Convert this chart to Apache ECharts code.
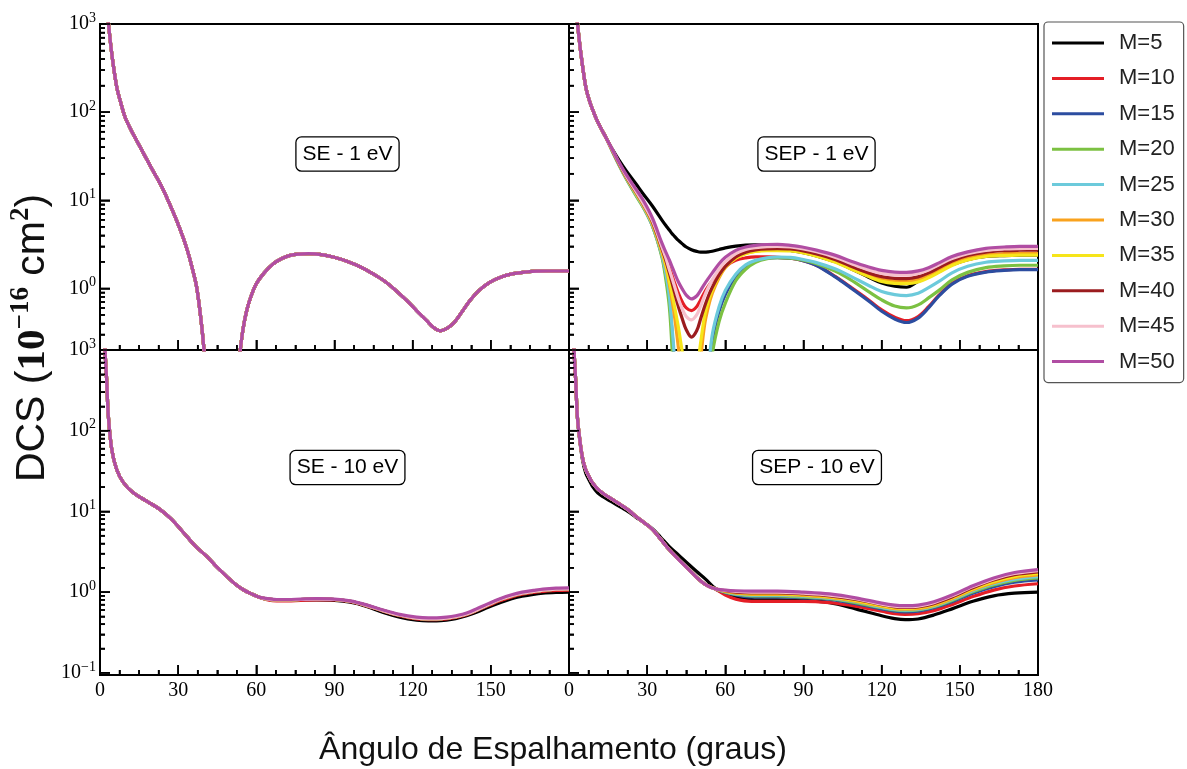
<!DOCTYPE html>
<html><head><meta charset="utf-8">
<script src="https://cdn.jsdelivr.net/npm/echarts@6/dist/echarts.min.js"></script>
<style>html,body{margin:0;padding:0;background:#fff}#c{width:1187px;height:769px}</style>
</head><body><div id="c"></div>
<script>
// ---------- DATA ----------
const M_NAMES = ['M=5','M=10','M=15','M=20','M=25','M=30','M=35','M=40','M=45','M=50'];
const X_TICKS = [0, 30, 60, 90, 120, 150, 180];
const X_MINOR = [7.5,15,22.5,37.5,45,52.5,67.5,75,82.5,97.5,105,112.5,127.5,135,142.5,157.5,165,172.5];
const Y_MAJOR_TOP = [1, 10, 100, 1000];
const Y_MAJOR_BOTTOM = [0.1, 1, 10, 100, 1000];
const Y_MINOR_TOP = [0.3,0.4,0.5,0.6,0.7,0.8,0.9,2,3,4,5,6,7,8,9,20,30,40,50,60,70,80,90,200,300,400,500,600,700,800,900];
const Y_MINOR_BOTTOM = [0.2,0.3,0.4,0.5,0.6,0.7,0.8,0.9,2,3,4,5,6,7,8,9,20,30,40,50,60,70,80,90,200,300,400,500,600,700,800,900];

const se1Angles = [2,3,4.5,6.4,8,9.6,12,14,16.6,20,23.7,26.5,29.4,32,33.9,35.5,37.1,38.8,40,41.5,46,51,52.5,54,55,56.3,58,60,63,66.5,70,73,76.5,80,85,89.5,95,100,104.5,109,113,117.7,121.5,125.4,128,130.5,133,135.6,138.5,142,145.5,149.7,154,158.6,163,167.6,172,176,180];
const se1All = [2600,1200,465,194,127,88,62,48,34.5,22.5,14.2,9.4,5.9,3.7,2.48,1.65,1.03,0.43,0.19,0.05,0.005,0.03,0.09,0.22,0.36,0.56,0.82,1.13,1.5,1.91,2.2,2.37,2.45,2.48,2.42,2.27,2.02,1.75,1.48,1.22,0.98,0.73,0.56,0.43,0.36,0.33,0.35,0.40,0.52,0.73,0.95,1.18,1.35,1.47,1.53,1.57,1.575,1.575,1.575];

const sep1HeadAngles = [2,3,4.5,6.4,8,10.2,12,14.1];
const sep1Head = [2600,1200,480,195,130,88,68,52];
const sep1BodyAngles = [16.6,19.2,22,25.6,28.5,32,35.6,37.1,38.5,39.5,40.5,42,43.5,45,47,49,50.5,52,53.5,55,57.6,60,64,67.8,71.6,76,80,85,89.5,95,102.3,108,115,120,125,129.5,134,138,142,147,153,160,167,173,180];
const sep1_M5  = [38,28.5,21.5,15.5,11.8,8.6,6.0,5.2,4.6,4.2,3.9,3.5,3.2,2.95,2.75,2.63,2.58,2.58,2.6,2.64,2.76,2.88,3.02,3.1,3.12,3.08,2.92,2.7,2.56,2.34,2.0,1.68,1.34,1.15,1.06,1.03,1.2,1.35,1.55,1.85,2.12,2.3,2.36,2.38,2.38];
const sep1_M10 = [37.5,26.5,18.8,12.8,9.3,5.9,3.0,2.3,1.72,1.42,1.16,0.88,0.7,0.6,0.56,0.62,0.74,0.9,1.06,1.22,1.52,1.78,2.08,2.22,2.28,2.28,2.25,2.2,2.08,1.83,1.36,1.04,0.74,0.57,0.47,0.43,0.48,0.62,0.84,1.14,1.39,1.55,1.62,1.65,1.65];
const sep1_M15 = [36.5,25.5,17.7,11.7,8.4,5.15,2.4,1.45,0.75,0.33,0.13,0.02,0.006,0.004,0.003,0.004,0.008,0.03,0.1,0.26,0.55,0.85,1.38,1.8,2.05,2.2,2.23,2.2,2.08,1.82,1.34,1.02,0.72,0.55,0.45,0.41,0.46,0.6,0.82,1.12,1.37,1.53,1.6,1.63,1.63];
const sep1_M20 = [36,25,17.4,11.4,8.3,5.1,2.3,1.3,0.62,0.22,0.06,0.01,0.004,0.003,0.003,0.003,0.005,0.015,0.06,0.18,0.42,0.68,1.22,1.65,1.98,2.18,2.23,2.2,2.1,1.9,1.56,1.26,0.92,0.74,0.63,0.6,0.65,0.78,0.95,1.25,1.52,1.72,1.8,1.83,1.83];
const sep1_M25 = [36.5,25.5,17.8,11.8,8.5,5.2,2.45,1.55,0.82,0.38,0.16,0.03,0.006,0.004,0.003,0.004,0.008,0.04,0.12,0.3,0.62,0.95,1.45,1.85,2.08,2.22,2.27,2.25,2.14,1.96,1.66,1.38,1.08,0.92,0.85,0.83,0.88,1.02,1.2,1.5,1.78,1.98,2.05,2.08,2.08];
const sep1_M30 = [37,26,18.1,12.1,8.7,5.4,2.6,1.8,1.12,0.75,0.48,0.21,0.07,0.03,0.02,0.04,0.15,0.38,0.62,0.88,1.32,1.72,2.2,2.5,2.65,2.72,2.72,2.7,2.58,2.36,2.02,1.72,1.42,1.27,1.21,1.2,1.26,1.4,1.6,1.92,2.2,2.4,2.48,2.5,2.5];
const sep1_M35 = [37,26,18.2,12.2,8.8,5.5,2.7,1.9,1.22,0.88,0.62,0.36,0.19,0.12,0.1,0.12,0.24,0.48,0.72,0.96,1.38,1.76,2.2,2.48,2.62,2.68,2.68,2.66,2.54,2.32,1.98,1.67,1.36,1.2,1.14,1.13,1.18,1.32,1.52,1.82,2.1,2.3,2.36,2.38,2.38];
const sep1_M40 = [37,26,18.4,12.5,9.0,5.7,2.85,2.1,1.5,1.17,0.9,0.62,0.45,0.34,0.28,0.33,0.45,0.62,0.82,1.03,1.42,1.78,2.28,2.58,2.74,2.81,2.82,2.8,2.68,2.46,2.12,1.8,1.5,1.36,1.3,1.29,1.35,1.5,1.72,2.05,2.36,2.58,2.68,2.71,2.72];
const sep1_M45 = [37.5,26.5,18.8,12.8,9.2,5.9,3.0,2.25,1.64,1.32,1.06,0.76,0.58,0.48,0.44,0.5,0.63,0.82,1.03,1.25,1.65,2.0,2.48,2.76,2.9,2.98,3.0,2.95,2.82,2.6,2.25,1.93,1.62,1.48,1.42,1.41,1.48,1.62,1.85,2.18,2.48,2.7,2.8,2.83,2.84];
const sep1_M50 = [38,27,19.5,13.5,10,6.3,3.3,2.6,2.1,1.78,1.5,1.18,0.98,0.84,0.76,0.82,0.95,1.12,1.3,1.5,1.9,2.25,2.7,2.95,3.08,3.15,3.16,3.08,2.95,2.72,2.37,2.05,1.75,1.6,1.53,1.52,1.58,1.72,1.95,2.3,2.6,2.85,2.95,3.0,3.0];

const se10HeadAngles = [1.5,2,2.6,3.2,4.5,6.4,9,12.8,17.9,23,27.5,33.3,37,40.9,44.8,48.6,52,55,58.5,61.4];
const se10Head = [2400,900,400,152,59,33,22.7,17,13.4,10.6,7.95,4.9,3.6,2.79,2.05,1.57,1.25,1.07,0.94,0.86];
const se10TailAngles = [64.5,67.8,72,77,83.2,90,96,102,108.7,115,121.5,126,129.2,133,136.5,140.7,145,149,153.5,158,162,166.3,170,175,180];
const se10Tail_M5  = [0.81,0.79,0.79,0.8,0.8,0.79,0.75,0.67,0.56,0.49,0.45,0.44,0.44,0.45,0.47,0.51,0.57,0.65,0.74,0.83,0.89,0.94,0.97,0.99,1.0];
const se10Tail_M10 = [0.8,0.78,0.78,0.79,0.8,0.8,0.76,0.68,0.58,0.51,0.465,0.455,0.455,0.465,0.485,0.525,0.6,0.68,0.78,0.87,0.94,0.99,1.02,1.05,1.06];
const se10Tail_M15to45 = [0.82,0.8,0.8,0.81,0.82,0.81,0.77,0.69,0.59,0.52,0.475,0.465,0.465,0.475,0.495,0.535,0.61,0.7,0.81,0.9,0.97,1.02,1.06,1.09,1.1];
const se10Tail_M50 = [0.83,0.81,0.81,0.82,0.83,0.82,0.78,0.7,0.6,0.53,0.49,0.48,0.48,0.49,0.51,0.55,0.63,0.72,0.83,0.93,1.0,1.05,1.09,1.12,1.13];

const sep10HeadAngles = [1.5,2,2.6,3.2,4,5.1,6.4,8,9,11,13,16.6,20,23,25.6,29,32,35,38.4,42,46,49,52.4,56];
const sep10Head_M5 = [2400,900,400,150,82,45,30,23.5,20.5,17,15.2,13,11.2,9.8,8.5,7.2,6.1,4.85,3.7,2.9,2.2,1.8,1.45,1.12];
const sep10Head_M10to50 = [2400,900,400,152,85,48,33,26,22.7,19,16.8,14.1,12,10.3,8.7,7.2,6.0,4.6,3.37,2.55,1.9,1.52,1.24,1.1];
const sep10TailAngles = [60,64,70,80,90,100,110,120,125,129,134,140,147,155,163,171,180];
const sep10_M5  = [0.95,0.86,0.81,0.8,0.79,0.74,0.62,0.51,0.47,0.455,0.465,0.52,0.62,0.77,0.9,0.97,1.0];
const sep10_M10 = [0.92,0.82,0.77,0.77,0.77,0.74,0.67,0.58,0.54,0.53,0.54,0.59,0.7,0.88,1.06,1.19,1.27];
const sep10_M15 = [0.99,0.92,0.87,0.87,0.85,0.81,0.72,0.62,0.58,0.57,0.58,0.64,0.76,0.97,1.17,1.33,1.42];
const sep10_M20 = [1.0,0.94,0.9,0.9,0.87,0.83,0.74,0.64,0.6,0.59,0.6,0.66,0.79,1.01,1.23,1.4,1.5];
const sep10_M25 = [1.01,0.95,0.92,0.92,0.89,0.84,0.76,0.65,0.61,0.6,0.61,0.67,0.81,1.04,1.27,1.45,1.56];
const sep10_M30 = [1.02,0.97,0.94,0.94,0.91,0.86,0.77,0.665,0.625,0.615,0.625,0.685,0.83,1.07,1.31,1.51,1.63];
const sep10_M35 = [1.03,0.99,0.96,0.96,0.93,0.88,0.79,0.68,0.64,0.63,0.64,0.7,0.85,1.1,1.36,1.57,1.7];
const sep10_M40 = [1.04,1.0,0.98,0.98,0.95,0.9,0.81,0.7,0.655,0.645,0.655,0.72,0.87,1.13,1.41,1.64,1.78];
const sep10_M45 = [1.05,1.02,1.0,1.0,0.97,0.92,0.83,0.71,0.67,0.66,0.67,0.74,0.9,1.17,1.46,1.7,1.85];
const sep10_M50 = [1.06,1.04,1.03,1.03,1.0,0.95,0.85,0.73,0.69,0.68,0.69,0.76,0.92,1.2,1.5,1.75,1.9];

// ---------- STYLE ----------
const COLORS = ['#000000','#e41e26','#2c4da0','#7cc142','#6ccadb','#f9a21d','#f6e51a','#9b1c1f','#f6c0cd','#b04da3'];
const SERIF = 'Liberation Serif';
const SANS = 'Liberation Sans';

function zip(a, v) { return a.map((x, i) => [x, v[i]]); }
const sep1Bodies = [sep1_M5,sep1_M10,sep1_M15,sep1_M20,sep1_M25,sep1_M30,sep1_M35,sep1_M40,sep1_M45,sep1_M50];
const sep10Tails = [sep10_M5,sep10_M10,sep10_M15,sep10_M20,sep10_M25,sep10_M30,sep10_M35,sep10_M40,sep10_M45,sep10_M50];
function se10TailFor(m) { return m === 0 ? se10Tail_M5 : m === 1 ? se10Tail_M10 : m === 9 ? se10Tail_M50 : se10Tail_M15to45; }
const panelData = [
  m => zip(se1Angles, se1All),
  m => zip(sep1HeadAngles, sep1Head).concat(zip(sep1BodyAngles, sep1Bodies[m])),
  m => zip(se10HeadAngles, se10Head).concat(zip(se10TailAngles, se10TailFor(m))),
  m => zip(sep10HeadAngles, m === 0 ? sep10Head_M5 : sep10Head_M10to50).concat(zip(sep10TailAngles, sep10Tails[m]))
];

const GRIDS = [
  {left: 100, top: 24, width: 469, height: 326},
  {left: 569, top: 24, width: 469, height: 326},
  {left: 100, top: 350, width: 469, height: 325},
  {left: 569, top: 350, width: 469, height: 325}
];

function axLine() { return {show: true, onZero: false, lineStyle: {color: '#000', width: 2}}; }
function tick(len, vals) { return {show: true, inside: true, length: len, customValues: vals, lineStyle: {color: '#000', width: 1.6}}; }

const xAxis = [];
GRIDS.forEach((g, i) => {
  xAxis.push({
    type: 'value', gridIndex: i, position: 'bottom', min: 0, max: 180, interval: 30,
    axisLine: axLine(), splitLine: {show: false},
    axisTick: tick(10, X_TICKS),
    axisLabel: {show: i >= 2, margin: 6, color: '#000', fontFamily: SERIF, fontSize: 20, showMaxLabel: i !== 2}
  });
  xAxis.push({
    type: 'value', gridIndex: i, position: 'bottom', min: 0, max: 180, interval: 30,
    axisLine: axLine(), splitLine: {show: false},
    axisTick: tick(5, X_MINOR),
    axisLabel: {show: false}
  });
});

function yLabelFmt(v) {
  const e = Math.round(Math.log10(v));
  return '{b|10}{s|' + (e < 0 ? '\u2212' + (-e) : e) + '}';
}

const yAxis = [];
GRIDS.forEach((g, i) => {
  const top = i < 2;
  const majors = top ? Y_MAJOR_TOP : Y_MAJOR_BOTTOM;
  yAxis.push({
    type: 'log', gridIndex: i, position: 'left', min: top ? 0.2 : 0.094, max: 1000,
    axisLine: axLine(), splitLine: {show: false},
    axisTick: tick(10, majors),
    axisLabel: {
      show: i % 2 === 0, customValues: majors, margin: 4, formatter: yLabelFmt,
      rich: {
        b: {fontFamily: SERIF, fontSize: 20, color: '#000', lineHeight: 26},
        s: {fontFamily: SERIF, fontSize: 14, color: '#000', lineHeight: 14, verticalAlign: 'top'}
      }
    }
  });
  yAxis.push({
    type: 'log', gridIndex: i, position: 'left', min: top ? 0.2 : 0.094, max: 1000,
    axisLine: axLine(), splitLine: {show: false},
    axisTick: tick(5, top ? Y_MINOR_TOP : Y_MINOR_BOTTOM),
    axisLabel: {show: false}
  });
});

const series = [];
for (let p = 0; p < 4; p++) {
  for (let m = 0; m < 10; m++) {
    series.push({
      type: 'line', name: M_NAMES[m], xAxisIndex: 2 * p, yAxisIndex: 2 * p,
      data: panelData[p](m), showSymbol: false, symbol: 'none', smooth: 0.35,
      clip: true, color: COLORS[m], lineStyle: {width: 3.2, color: COLORS[m]},
      emphasis: {disabled: true}
    });
  }
}

function box(id, text, x, y) {
  return {id: id, type: 'text', x: x, y: y, z: 100,
    style: {text: text, fontFamily: SANS, fontSize: 21, lineHeight: 21, fill: '#000', align: 'center', verticalAlign: 'middle',
      backgroundColor: '#fff', borderColor: '#000', borderWidth: 1.3, borderRadius: 5, padding: [6, 6, 6, 6]}};
}

const baseGraphic = [
  box('b1', 'SE - 1 eV', 347.5, 154),
  box('b2', 'SEP - 1 eV', 816.5, 154),
  box('b3', 'SE - 10 eV', 347.5, 467.5),
  box('b4', 'SEP - 10 eV', 817, 467.5),
  {id: 'xt', type: 'text', x: 553, y: 750, style: {text: '\u00C2ngulo de Espalhamento (graus)', fontFamily: SANS, fontSize: 32, fill: '#111', align: 'center', verticalAlign: 'middle'}},
  {id: 'yt', type: 'text', x: 33, y: 338, rotation: Math.PI / 2,
    style: {text: '{a|DCS (}{n|10}{s|\u221216}{a| cm}{s|2}{a|)}', align: 'center', verticalAlign: 'middle', fill: '#111',
      rich: {
        a: {fontFamily: SANS, fontSize: 41, lineHeight: 50, fill: '#111'},
        n: {fontFamily: SERIF, fontWeight: 'bold', fontSize: 41, lineHeight: 50, fill: '#111'},
        s: {fontFamily: SERIF, fontWeight: 'bold', fontSize: 27, lineHeight: 27, verticalAlign: 'top', fill: '#111'}
      }}}
];

// Tick marks, placed through the axes' own scales, drawn inward (in addition to axisTick)
function tickGraphics(chart) {
  const els = [];
  let tid = 0;
  function addX(i, vals, len) {
    const g = GRIDS[i], yb = g.top + g.height;
    vals.forEach(v => {
      const px = chart.convertToPixel({xAxisIndex: 2 * i}, v);
      if (typeof px !== 'number' || isNaN(px)) return;
      els.push({id: 'tk' + (tid++), type: 'line', z: 60, silent: true,
        shape: {x1: px, y1: yb, x2: px, y2: yb - len}, style: {stroke: '#000', lineWidth: 1.6}});
    });
  }
  function addY(i, vals, len) {
    const g = GRIDS[i], xl = g.left;
    vals.forEach(v => {
      const py = chart.convertToPixel({yAxisIndex: 2 * i}, v);
      if (typeof py !== 'number' || isNaN(py)) return;
      els.push({id: 'tk' + (tid++), type: 'line', z: 60, silent: true,
        shape: {x1: xl, y1: py, x2: xl + len, y2: py}, style: {stroke: '#000', lineWidth: 1.6}});
    });
  }
  for (let i = 0; i < 4; i++) {
    const top = i < 2;
    addX(i, X_TICKS, 10);
    addX(i, X_MINOR, 5);
    addY(i, top ? Y_MAJOR_TOP : Y_MAJOR_BOTTOM, 10);
    addY(i, top ? Y_MINOR_TOP : Y_MINOR_BOTTOM, 5);
  }
  return els;
}

const option = {
  animation: false,
  backgroundColor: '#fff',
  grid: GRIDS.map(g => Object.assign({show: true, borderColor: '#000', borderWidth: 2}, g)),
  xAxis: xAxis, yAxis: yAxis, series: series,
  legend: {
    data: M_NAMES.map((n, i) => ({name: n, icon: 'rect', itemStyle: {color: COLORS[i]}})),
    orient: 'vertical', left: 1044, top: 22, itemWidth: 52, itemHeight: 3, itemGap: 13.4,
    padding: [10, 9, 10, 8], borderColor: '#555', borderWidth: 1.2, borderRadius: 4, backgroundColor: '#fff',
    textStyle: {fontFamily: SANS, fontSize: 22, lineHeight: 22, color: '#222', padding: [0, 0, 0, 10]},
    selectedMode: false
  },
  graphic: {elements: baseGraphic}
};

const chart = echarts.init(document.getElementById('c'), null, {renderer: 'canvas'});
chart.setOption(option);
try {
  const ticks = tickGraphics(chart);
  chart.setOption({graphic: {elements: baseGraphic.concat(ticks)}});
} catch (e) { console.error(e); }
</script></body></html>
